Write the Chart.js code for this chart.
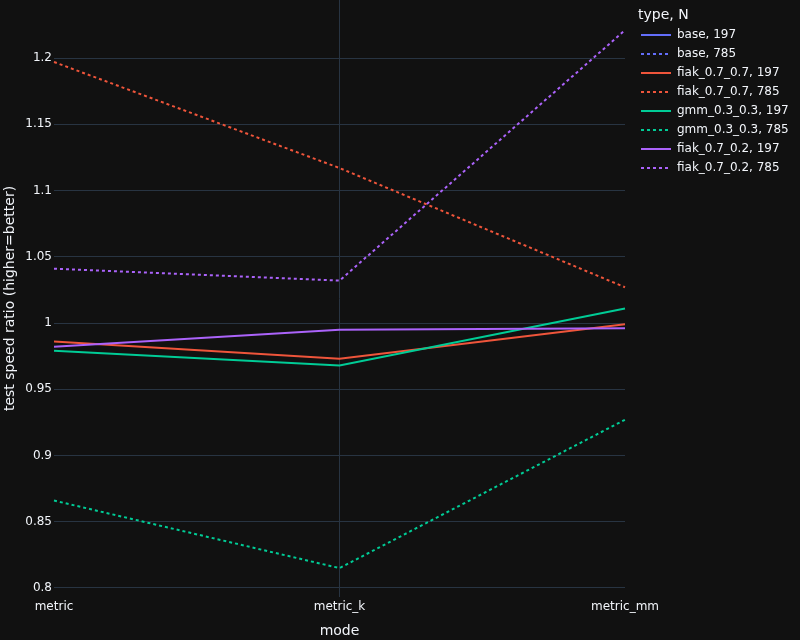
<!DOCTYPE html>
<html>
<head>
<meta charset="utf-8">
<script src="https://cdn.jsdelivr.net/npm/chart.js@4"></script>
<style>
  html, body { margin: 0; padding: 0; background: #111111; }
  #wrap { position: relative; width: 800px; height: 640px; }
  #c { position: absolute; left: 0; top: 0; }
  #legend { position: absolute; left: 638px; top: 4px; font-family: "DejaVu Sans", sans-serif; color: #f2f5fa; }
  #legend .title { font-size: 14px; height: 21px; line-height: 21px; }
  #legend .item { height: 19px; line-height: 19px; font-size: 12px; display: flex; align-items: center; }
  #legend svg { margin-left: 3px; margin-right: 6px; }
</style>
</head>
<body>
<div id="wrap">
  <canvas id="c" width="800" height="640"></canvas>
  <div id="legend"></div>
</div>
<script>
const categories = ["metric", "metric_k", "metric_mm"];
const yTicks = [0.8, 0.85, 0.9, 0.95, 1, 1.05, 1.1, 1.15, 1.2];

const base197 = [null, null, null];
const base785 = [null, null, null];
const fiak77_197 = [0.986, 0.973, 0.999];
const fiak77_785 = [1.197, 1.117, 1.027];
const gmm33_197 = [0.979, 0.968, 1.011];
const gmm33_785 = [0.866, 0.815, 0.927];
const fiak72_197 = [0.982, 0.995, 0.996];
const fiak72_785 = [1.041, 1.032, 1.221];

const seriesNames = ["base, 197", "base, 785", "fiak_0.7_0.7, 197", "fiak_0.7_0.7, 785",
  "gmm_0.3_0.3, 197", "gmm_0.3_0.3, 785", "fiak_0.7_0.2, 197", "fiak_0.7_0.2, 785"];
const seriesData = [base197, base785, fiak77_197, fiak77_785, gmm33_197, gmm33_785, fiak72_197, fiak72_785];
const seriesColors = ["#636efa", "#636efa", "#EF553B", "#EF553B", "#00cc96", "#00cc96", "#ab63fa", "#ab63fa"];
const seriesDotted = [false, true, false, true, false, true, false, true];

const datasets = seriesNames.map((n, i) => ({
  label: n,
  data: seriesData[i],
  borderColor: seriesColors[i],
  backgroundColor: seriesColors[i],
  borderWidth: 2,
  borderDash: seriesDotted[i] ? [3, 3] : [],
  pointRadius: 0,
  pointHoverRadius: 0,
  tension: 0,
  fill: false
}));

const textColor = "#f2f5fa";
const gridColor = "#283442";
const font = "'DejaVu Sans', sans-serif";

new Chart(document.getElementById("c"), {
  type: "line",
  data: { labels: categories, datasets: datasets.slice().reverse() },
  options: {
    responsive: false,
    animation: false,
    layout: { padding: { left: 0, right: 175, top: 0, bottom: 0 } },
    plugins: { legend: { display: false }, tooltip: { enabled: false } },
    scales: {
      x: {
        type: "category",
        offset: false,
        grid: {
          color: (ctx) => (ctx.index === 1 ? gridColor : "rgba(0,0,0,0)"),
          drawTicks: false,
          lineWidth: 1
        },
        border: { display: false },
        ticks: { color: textColor, font: { family: font, size: 12 }, padding: 3, maxRotation: 0 },
        title: { display: true, text: "mode", color: textColor, font: { family: font, size: 14 }, padding: { top: 0, bottom: 0 } },
        afterFit: (s) => { s.height = 43; s.paddingLeft = 0; s.paddingRight = 0; }
      },
      y: {
        min: 0.7932,
        max: 1.2438,
        grid: { color: gridColor, drawTicks: false, lineWidth: 1 },
        border: { display: false },
        afterBuildTicks: (s) => { s.ticks = yTicks.map(v => ({ value: v })); },
        ticks: {
          color: textColor, font: { family: font, size: 12 }, padding: 2,
          callback: (v) => String(+Number(v).toFixed(2))
        },
        title: { display: true, text: "test speed ratio (higher=better)", color: textColor, font: { family: font, size: 14 }, padding: { top: 2, bottom: 0 } },
        afterFit: (s) => { s.width = 54; s.paddingTop = 0; s.paddingBottom = 0; }
      }
    }
  }
});

const leg = document.getElementById("legend");
const t = document.createElement("div");
t.className = "title";
t.textContent = "type, N";
leg.appendChild(t);
seriesNames.forEach((n, i) => {
  const d = document.createElement("div");
  d.className = "item";
  const dash = seriesDotted[i] ? ' stroke-dasharray="3,3"' : "";
  d.innerHTML = '<svg width="30" height="6"><line x1="0" y1="3" x2="30" y2="3" stroke="' + seriesColors[i] + '" stroke-width="2"' + dash + '/></svg>';
  const s = document.createElement("span");
  s.textContent = n;
  d.appendChild(s);
  leg.appendChild(d);
});
</script>
</body>
</html>
